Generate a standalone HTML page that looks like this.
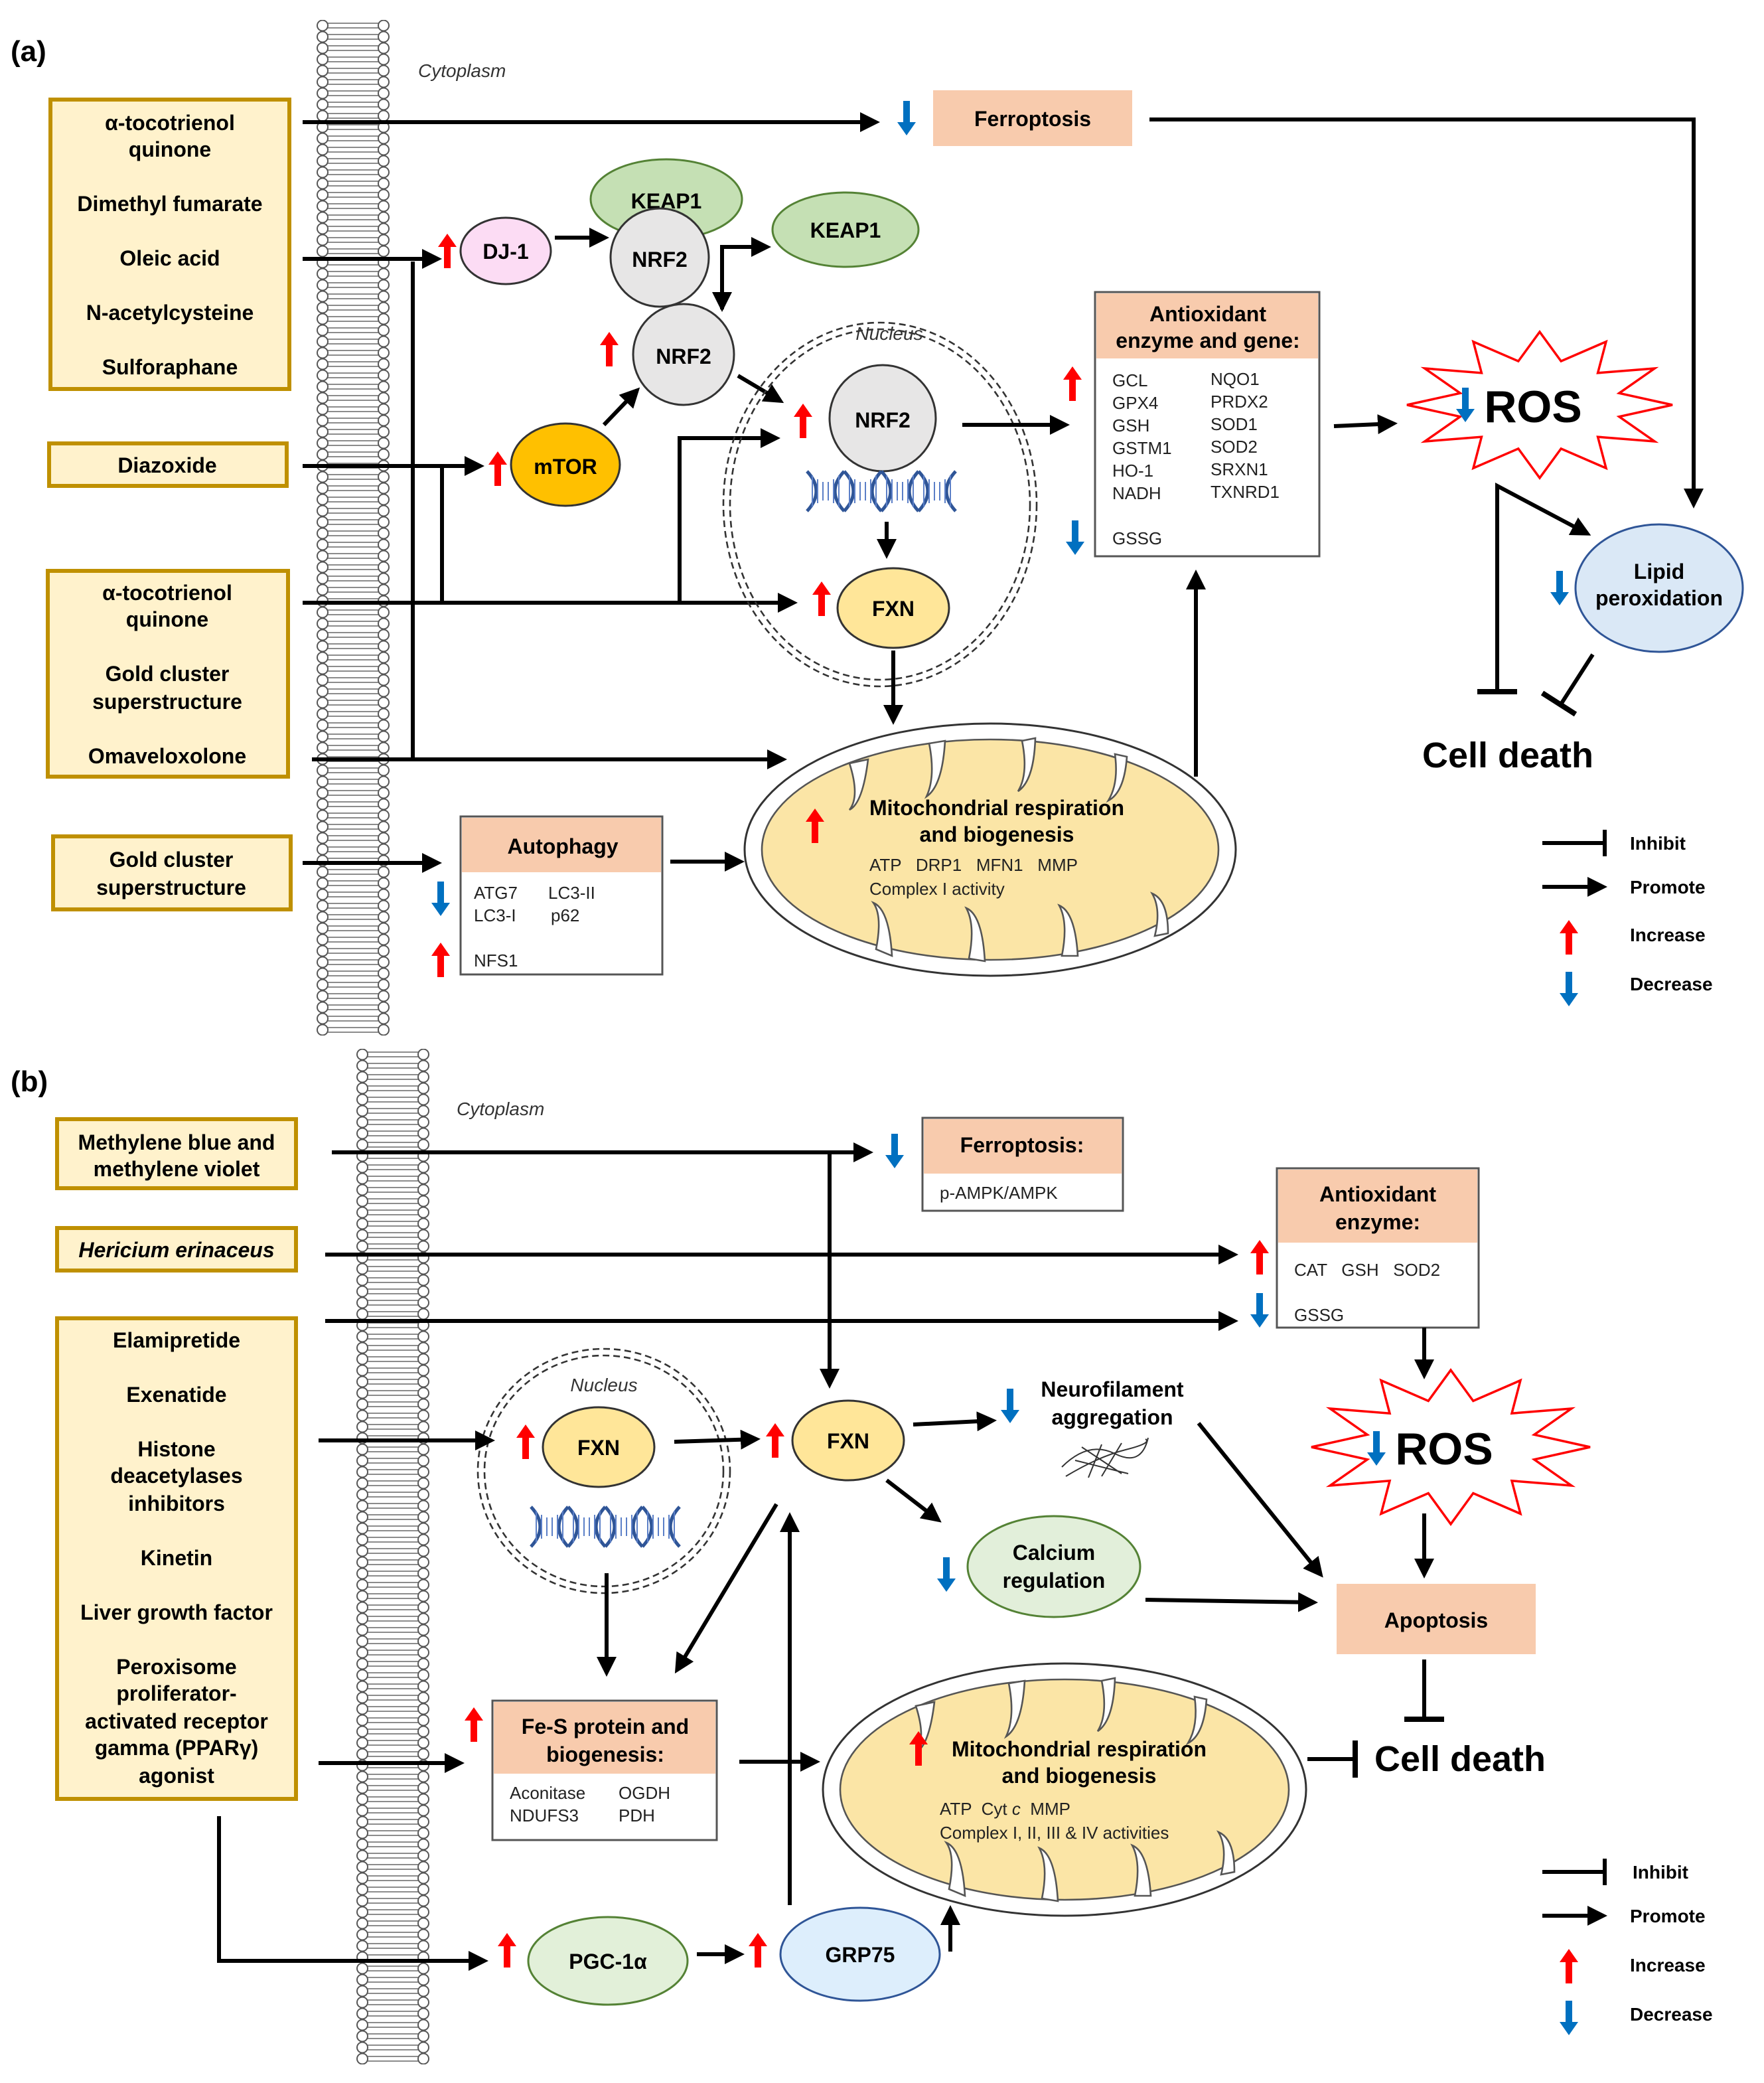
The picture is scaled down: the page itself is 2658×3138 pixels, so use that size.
<!DOCTYPE html>
<html><head><meta charset="utf-8"><style>
html,body{margin:0;padding:0;background:#fff}
svg{display:block}
text{font-family:"Liberation Sans",Arial,sans-serif}
.b{font-weight:bold;font-size:16px;text-anchor:middle}
.s{font-size:13px;fill:#222}
.it{font-style:italic;font-size:14px;fill:#333}
.ln{stroke:#000;stroke-width:3;fill:none}
</style></head><body>
<svg width="2658" height="3138" viewBox="0 0 1329 1569" xmlns="http://www.w3.org/2000/svg">
<defs>
<marker id="ah" markerWidth="5" markerHeight="5" refX="4" refY="2.5" orient="auto" markerUnits="strokeWidth"><path d="M0,0 L5,2.5 L0,5 z" fill="#000"/></marker>
<pattern id="memA" x="238" y="15" width="56" height="8.5" patternUnits="userSpaceOnUse">
<line x1="9" y1="2.5" x2="47" y2="2.5" stroke="#666" stroke-width="0.8"/>
<line x1="9" y1="6" x2="47" y2="6" stroke="#666" stroke-width="0.8"/>
<circle cx="5" cy="4.25" r="4" fill="#fff" stroke="#555" stroke-width="1"/>
<circle cx="51" cy="4.25" r="4" fill="#fff" stroke="#555" stroke-width="1"/>
</pattern>
<pattern id="memB" x="268" y="790" width="56" height="8.5" patternUnits="userSpaceOnUse">
<line x1="9" y1="2.5" x2="47" y2="2.5" stroke="#666" stroke-width="0.8"/>
<line x1="9" y1="6" x2="47" y2="6" stroke="#666" stroke-width="0.8"/>
<circle cx="5" cy="4.25" r="4" fill="#fff" stroke="#555" stroke-width="1"/>
<circle cx="51" cy="4.25" r="4" fill="#fff" stroke="#555" stroke-width="1"/>
</pattern>
<symbol id="up" viewBox="0 0 14 26" width="14" height="26"><path d="M7,0 L14,10 L9.5,10 L9.5,26 L4.5,26 L4.5,10 L0,10 z" fill="#ff0000"/></symbol>
<symbol id="dn" viewBox="0 0 14 26" width="14" height="26"><path d="M7,26 L14,16 L9.5,16 L9.5,0 L4.5,0 L4.5,16 L0,16 z" fill="#0070c0"/></symbol>
<g id="dna">
<path d="M0,0 Q14,15 0,30 M28,0 Q14,15 28,30 M28,0 Q42,15 28,30 M56,0 Q42,15 56,30 M56,0 Q70,15 56,30 M84,0 Q70,15 84,30 M84,0 Q98,15 84,30 M112,0 Q98,15 112,30" stroke="#2f5597" stroke-width="2.5" fill="none"/>
<path d="M4,3 v24 M8,6 v18 M12,8 v14 M16,8 v14 M20,6 v18 M24,3 v24 M32,3 v24 M36,6 v18 M40,8 v14 M44,8 v14 M48,6 v18 M52,3 v24 M60,3 v24 M64,6 v18 M68,8 v14 M72,8 v14 M76,6 v18 M80,3 v24 M88,3 v24 M92,6 v18 M96,8 v14 M100,8 v14 M104,6 v18 M108,3 v24" stroke="#5b7fc7" stroke-width="1"/>
</g>
</defs>

<!-- ===== PART A ===== -->
<text x="8" y="46" font-size="22" font-weight="bold">(a)</text>
<rect x="238" y="15" width="56" height="765" fill="url(#memA)"/>
<text x="315" y="58" class="it">Cytoplasm</text>

<g fill="#fff2cc" stroke="#bf9000" stroke-width="3">
<rect x="38" y="75" width="180" height="218"/>
<rect x="37" y="334" width="179" height="32"/>
<rect x="36" y="430" width="181" height="155"/>
<rect x="40" y="630" width="179" height="55"/>
</g>
<text x="128" y="98" class="b">α-tocotrienol</text><text x="128" y="118" class="b">quinone</text>
<text x="128" y="159" class="b">Dimethyl fumarate</text><text x="128" y="200" class="b">Oleic acid</text>
<text x="128" y="241" class="b">N-acetylcysteine</text><text x="128" y="282" class="b">Sulforaphane</text>
<text x="126" y="356" class="b">Diazoxide</text>
<text x="126" y="452" class="b">α-tocotrienol</text><text x="126" y="472" class="b">quinone</text>
<text x="126" y="513" class="b">Gold cluster</text><text x="126" y="534" class="b">superstructure</text>
<text x="126" y="575" class="b">Omaveloxolone</text>
<text x="129" y="653" class="b">Gold cluster</text><text x="129" y="674" class="b">superstructure</text>

<!-- ferroptosis -->
<line x1="228" y1="92" x2="660" y2="92" class="ln" marker-end="url(#ah)"/>
<use href="#dn" x="676" y="76"/>
<rect x="703" y="68" width="150" height="42" fill="#f8cbad"/>
<text x="778" y="95" class="b">Ferroptosis</text>
<polyline points="866,90 1276,90 1276,380" class="ln" marker-end="url(#ah)"/>

<!-- DJ-1 / KEAP1 -->
<line x1="228" y1="195" x2="330" y2="195" class="ln" marker-end="url(#ah)"/>
<use href="#up" x="330" y="176"/>
<ellipse cx="381" cy="189" rx="34" ry="25" fill="#fcdcf4" stroke="#333" stroke-width="1.5"/>
<text x="381" y="195" class="b">DJ-1</text>
<line x1="418" y1="179" x2="456" y2="179" class="ln" marker-end="url(#ah)"/>
<ellipse cx="502" cy="150" rx="57" ry="30" fill="#c5e0b4" stroke="#548235" stroke-width="1.5"/>
<text x="502" y="157" class="b">KEAP1</text>
<circle cx="497" cy="194" r="37" fill="#e7e6e6" stroke="#333" stroke-width="1.5"/>
<text x="497" y="201" class="b">NRF2</text>
<polyline points="544,233 544,186 578,186" class="ln" marker-end="url(#ah)"/>
<line x1="544" y1="200" x2="544" y2="232" class="ln" marker-end="url(#ah)"/>
<ellipse cx="637" cy="173" rx="55" ry="28" fill="#c5e0b4" stroke="#548235" stroke-width="1.5"/>
<text x="637" y="179" class="b">KEAP1</text>
<use href="#up" x="452" y="250"/>
<circle cx="515" cy="267" r="38" fill="#e7e6e6" stroke="#333" stroke-width="1.5"/>
<text x="515" y="274" class="b">NRF2</text>
<line x1="556" y1="283" x2="588" y2="302" class="ln" marker-end="url(#ah)"/>

<!-- mTOR -->
<line x1="228" y1="351" x2="362" y2="351" class="ln" marker-end="url(#ah)"/>
<use href="#up" x="368" y="340"/>
<ellipse cx="426" cy="350" rx="41" ry="31" fill="#ffc000" stroke="#333" stroke-width="1.5"/>
<text x="426" y="357" class="b">mTOR</text>
<line x1="455" y1="320" x2="480" y2="294" class="ln" marker-end="url(#ah)"/>

<line x1="311" y1="197" x2="311" y2="573" class="ln"/>
<line x1="333" y1="351" x2="333" y2="454" class="ln"/>
<line x1="228" y1="454" x2="598" y2="454" class="ln" marker-end="url(#ah)"/>
<polyline points="512,454 512,330 585,330" class="ln" marker-end="url(#ah)"/>
<line x1="235" y1="572" x2="590" y2="572" class="ln" marker-end="url(#ah)"/>

<!-- nucleus a -->
<ellipse cx="663" cy="380" rx="118" ry="137" fill="none" stroke="#333" stroke-width="1.3" stroke-dasharray="5,3"/>
<ellipse cx="663" cy="380" rx="113" ry="132" fill="none" stroke="#333" stroke-width="1.3" stroke-dasharray="5,3"/>
<text x="670" y="256" class="it" text-anchor="middle">Nucleus</text>
<use href="#up" x="598" y="304"/>
<circle cx="665" cy="315" r="40" fill="#e7e6e6" stroke="#333" stroke-width="1.5"/>
<text x="665" y="322" class="b">NRF2</text>
<use href="#dna" transform="translate(608,355)"/>
<line x1="668" y1="393" x2="668" y2="418" class="ln" marker-end="url(#ah)"/>
<use href="#up" x="612" y="438"/>
<ellipse cx="673" cy="458" rx="42" ry="30" fill="#ffe699" stroke="#333" stroke-width="1.5"/>
<text x="673" y="464" class="b">FXN</text>
<line x1="673" y1="490" x2="673" y2="543" class="ln" marker-end="url(#ah)"/>

<line x1="725" y1="320" x2="803" y2="320" class="ln" marker-end="url(#ah)"/>
<use href="#up" x="801" y="276"/>
<use href="#dn" x="803" y="392"/>

<!-- antioxidant a -->
<rect x="825" y="220" width="169" height="199" fill="#fff" stroke="#555" stroke-width="1.5"/>
<rect x="826" y="221" width="167" height="49" fill="#f8cbad"/>
<text x="910" y="242" class="b">Antioxidant</text><text x="910" y="262" class="b">enzyme and gene:</text>
<g class="s">
<text x="838" y="291">GCL</text><text x="838" y="308">GPX4</text><text x="838" y="325">GSH</text><text x="838" y="342">GSTM1</text><text x="838" y="359">HO-1</text><text x="838" y="376">NADH</text>
<text x="912" y="290">NQO1</text><text x="912" y="307">PRDX2</text><text x="912" y="324">SOD1</text><text x="912" y="341">SOD2</text><text x="912" y="358">SRXN1</text><text x="912" y="375">TXNRD1</text>
<text x="838" y="410">GSSG</text>
</g>
<line x1="1005" y1="321" x2="1050" y2="319" class="ln" marker-end="url(#ah)"/>

<!-- ROS a -->
<g transform="translate(1160,305) scale(100,55)"><polygon points="1,0 .599,.161 .866,.5 .438,.438 .5,.866 .161,.599 0,1 -.161,.599 -.5,.866 -.438,.438 -.866,.5 -.599,.161 -1,0 -.599,-.161 -.866,-.5 -.438,-.438 -.5,-.866 -.161,-.599 0,-1 .161,-.599 .5,-.866 .438,-.438 .866,-.5 .599,-.161" fill="#fff" stroke="#ff0000" stroke-width="3.5" vector-effect="non-scaling-stroke"/></g>
<use href="#dn" x="1097" y="292"/>
<text x="1155" y="318" font-size="34" font-weight="bold" text-anchor="middle">ROS</text>

<polyline points="1128,520 1128,366 1196,402" class="ln" marker-end="url(#ah)"/>
<line x1="1113" y1="521" x2="1143" y2="521" stroke="#000" stroke-width="4"/>
<ellipse cx="1250" cy="443" rx="63" ry="48" fill="#dae8f6" stroke="#2f5597" stroke-width="1.5"/>
<text x="1250" y="436" class="b">Lipid</text><text x="1250" y="456" class="b">peroxidation</text>
<use href="#dn" x="1168" y="430"/>
<line x1="1200" y1="493" x2="1175" y2="532" class="ln"/>
<line x1="1162" y1="522" x2="1187" y2="538" stroke="#000" stroke-width="4"/>
<text x="1136" y="578" font-size="27" font-weight="bold" text-anchor="middle">Cell death</text>

<!-- legend a -->
<line x1="1162" y1="635" x2="1208" y2="635" class="ln"/><line x1="1209" y1="625" x2="1209" y2="645" stroke="#000" stroke-width="3"/>
<line x1="1162" y1="668" x2="1208" y2="668" class="ln" marker-end="url(#ah)"/>
<use href="#up" x="1175" y="693"/><use href="#dn" x="1175" y="732"/>
<g font-size="14" font-weight="bold"><text x="1228" y="640">Inhibit</text><text x="1228" y="673">Promote</text><text x="1228" y="709">Increase</text><text x="1228" y="746">Decrease</text></g>

<!-- mito a -->
<ellipse cx="746" cy="640" rx="185" ry="95" fill="#fff" stroke="#333" stroke-width="1.5"/>
<ellipse cx="746" cy="640" rx="172" ry="83" fill="#fbe5a6" stroke="#555" stroke-width="1.3"/>
<g stroke="#555" stroke-width="1.3" fill="#fff">
<path d="M640,575 q8,25 0,35 q10,-5 14,-38 z"/><path d="M700,560 q5,25 -2,40 q12,-8 14,-42 z"/><path d="M770,558 q5,25 -3,38 q12,-8 13,-40 z"/><path d="M840,568 q3,22 -5,35 q12,-6 14,-33 z"/>
<path d="M660,715 q5,-25 -2,-35 q12,5 14,40 z"/><path d="M730,722 q5,-25 -2,-38 q12,5 14,40 z"/><path d="M800,720 q5,-25 -2,-38 q12,5 14,38 z"/><path d="M870,705 q5,-20 -2,-32 q12,5 12,30 z"/>
</g>
<use href="#up" x="607" y="609"/>
<text x="751" y="614" class="b">Mitochondrial respiration</text><text x="751" y="634" class="b">and biogenesis</text>
<text x="655" y="656" class="s" xml:space="preserve">ATP   DRP1   MFN1   MMP</text><text x="655" y="674" class="s">Complex I activity</text>
<line x1="901" y1="585" x2="901" y2="432" class="ln" marker-end="url(#ah)"/>

<!-- autophagy -->
<line x1="228" y1="650" x2="330" y2="650" class="ln" marker-end="url(#ah)"/>
<rect x="347" y="615" width="152" height="119" fill="#fff" stroke="#555" stroke-width="1.5"/>
<rect x="348" y="616" width="150" height="41" fill="#f8cbad"/>
<text x="424" y="643" class="b">Autophagy</text>
<g class="s"><text x="357" y="677">ATG7</text><text x="413" y="677">LC3-II</text><text x="357" y="694">LC3-I</text><text x="415" y="694">p62</text><text x="357" y="728">NFS1</text></g>
<use href="#dn" x="325" y="664"/><use href="#up" x="325" y="710"/>
<line x1="505" y1="649" x2="558" y2="649" class="ln" marker-end="url(#ah)"/>

<!-- ===== PART B ===== -->
<text x="8" y="822" font-size="22" font-weight="bold">(b)</text>
<rect x="268" y="790" width="56" height="765" fill="url(#memB)"/>
<text x="344" y="840" class="it">Cytoplasm</text>
<g fill="#fff2cc" stroke="#bf9000" stroke-width="3">
<rect x="43" y="843" width="180" height="52"/>
<rect x="43" y="925" width="180" height="32"/>
<rect x="43" y="993" width="180" height="362"/>
</g>
<text x="133" y="866" class="b">Methylene blue and</text><text x="133" y="886" class="b">methylene violet</text>
<text x="133" y="947" class="b" font-style="italic">Hericium erinaceus</text>
<text x="133" y="1015" class="b">Elamipretide</text><text x="133" y="1056" class="b">Exenatide</text>
<text x="133" y="1097" class="b">Histone</text><text x="133" y="1117" class="b">deacetylases</text><text x="133" y="1138" class="b">inhibitors</text>
<text x="133" y="1179" class="b">Kinetin</text><text x="133" y="1220" class="b">Liver growth factor</text>
<text x="133" y="1261" class="b">Peroxisome</text><text x="133" y="1281" class="b">proliferator-</text><text x="133" y="1302" class="b">activated receptor</text><text x="133" y="1322" class="b">gamma (PPARγ)</text><text x="133" y="1343" class="b">agonist</text>

<line x1="250" y1="868" x2="655" y2="868" class="ln" marker-end="url(#ah)"/>
<use href="#dn" x="667" y="854"/>
<line x1="625" y1="868" x2="625" y2="1043" class="ln" marker-end="url(#ah)"/>
<rect x="695" y="842" width="151" height="70" fill="#fff" stroke="#555" stroke-width="1.5"/>
<rect x="696" y="843" width="149" height="41" fill="#f8cbad"/>
<text x="770" y="868" class="b">Ferroptosis:</text>
<text x="708" y="903" class="s">p-AMPK/AMPK</text>

<line x1="245" y1="945" x2="930" y2="945" class="ln" marker-end="url(#ah)"/>
<use href="#up" x="942" y="934"/>
<line x1="245" y1="995" x2="930" y2="995" class="ln" marker-end="url(#ah)"/>
<use href="#dn" x="942" y="974"/>
<rect x="962" y="880" width="152" height="120" fill="#fff" stroke="#555" stroke-width="1.5"/>
<rect x="963" y="881" width="150" height="55" fill="#f8cbad"/>
<text x="1038" y="905" class="b">Antioxidant</text><text x="1038" y="926" class="b">enzyme:</text>
<text x="975" y="961" class="s" xml:space="preserve">CAT   GSH   SOD2</text><text x="975" y="995" class="s">GSSG</text>
<line x1="1073" y1="1000" x2="1073" y2="1036" class="ln" marker-end="url(#ah)"/>

<g transform="translate(1093,1090) scale(105,58)"><polygon points="1,0 .599,.161 .866,.5 .438,.438 .5,.866 .161,.599 0,1 -.161,.599 -.5,.866 -.438,.438 -.866,.5 -.599,.161 -1,0 -.599,-.161 -.866,-.5 -.438,-.438 -.5,-.866 -.161,-.599 0,-1 .161,-.599 .5,-.866 .438,-.438 .866,-.5 .599,-.161" fill="#fff" stroke="#ff0000" stroke-width="3.5" vector-effect="non-scaling-stroke"/></g>
<use href="#dn" x="1030" y="1078"/>
<text x="1088" y="1103" font-size="34" font-weight="bold" text-anchor="middle">ROS</text>
<line x1="1073" y1="1140" x2="1073" y2="1186" class="ln" marker-end="url(#ah)"/>

<!-- nucleus b -->
<ellipse cx="455" cy="1108" rx="95" ry="92" fill="none" stroke="#333" stroke-width="1.3" stroke-dasharray="5,3"/>
<ellipse cx="455" cy="1108" rx="90" ry="87" fill="none" stroke="#333" stroke-width="1.3" stroke-dasharray="5,3"/>
<text x="455" y="1048" class="it" text-anchor="middle">Nucleus</text>
<line x1="240" y1="1085" x2="370" y2="1085" class="ln" marker-end="url(#ah)"/>
<use href="#up" x="389" y="1073"/>
<ellipse cx="451" cy="1090" rx="42" ry="30" fill="#ffe699" stroke="#333" stroke-width="1.5"/>
<text x="451" y="1096" class="b">FXN</text>
<use href="#dna" transform="translate(400,1135)"/>
<line x1="457" y1="1185" x2="457" y2="1260" class="ln" marker-end="url(#ah)"/>
<line x1="508" y1="1086" x2="570" y2="1084" class="ln" marker-end="url(#ah)"/>
<use href="#up" x="577" y="1072"/>
<ellipse cx="639" cy="1085" rx="42" ry="30" fill="#ffe699" stroke="#333" stroke-width="1.5"/>
<text x="639" y="1091" class="b">FXN</text>

<line x1="688" y1="1073" x2="748" y2="1070" class="ln" marker-end="url(#ah)"/>
<use href="#dn" x="754" y="1046"/>
<text x="838" y="1052" class="b">Neurofilament</text><text x="838" y="1073" class="b">aggregation</text>
<g stroke="#333" stroke-width="1" fill="none"><path d="M800,1105 q20,-20 40,-10 t25,-12"/><path d="M803,1112 q25,-15 45,-20 t15,-8"/><path d="M810,1100 l40,10 M815,1090 l30,20 M830,1088 l-10,25 M845,1087 l-15,25"/></g>
<line x1="668" y1="1115" x2="707" y2="1145" class="ln" marker-end="url(#ah)"/>
<ellipse cx="794" cy="1180" rx="65" ry="38" fill="#e2efda" stroke="#548235" stroke-width="1.5"/>
<text x="794" y="1175" class="b">Calcium</text><text x="794" y="1196" class="b">regulation</text>
<use href="#dn" x="706" y="1173"/>
<line x1="903" y1="1072" x2="995" y2="1186" class="ln" marker-end="url(#ah)"/>
<line x1="863" y1="1205" x2="990" y2="1207" class="ln" marker-end="url(#ah)"/>
<rect x="1007" y="1193" width="150" height="53" fill="#f8cbad"/>
<text x="1082" y="1226" class="b">Apoptosis</text>
<line x1="1073" y1="1250" x2="1073" y2="1294" class="ln"/><line x1="1058" y1="1295" x2="1088" y2="1295" stroke="#000" stroke-width="4"/>
<text x="1100" y="1334" font-size="27" font-weight="bold" text-anchor="middle">Cell death</text>
<line x1="985" y1="1325" x2="1020" y2="1325" class="ln"/><line x1="1021" y1="1311" x2="1021" y2="1339" stroke="#000" stroke-width="4"/>

<line x1="585" y1="1133" x2="510" y2="1258" class="ln" marker-end="url(#ah)"/>
<line x1="595" y1="1435" x2="595" y2="1142" class="ln" marker-end="url(#ah)"/>

<!-- Fe-S -->
<line x1="240" y1="1328" x2="347" y2="1328" class="ln" marker-end="url(#ah)"/>
<use href="#up" x="350" y="1286"/>
<rect x="371" y="1281" width="169" height="105" fill="#fff" stroke="#555" stroke-width="1.5"/>
<rect x="372" y="1282" width="167" height="54" fill="#f8cbad"/>
<text x="456" y="1306" class="b">Fe-S protein and</text><text x="456" y="1327" class="b">biogenesis:</text>
<g class="s"><text x="384" y="1355">Aconitase</text><text x="466" y="1355">OGDH</text><text x="384" y="1372">NDUFS3</text><text x="466" y="1372">PDH</text></g>
<line x1="557" y1="1327" x2="615" y2="1327" class="ln" marker-end="url(#ah)"/>

<!-- mito b -->
<ellipse cx="802" cy="1348" rx="182" ry="95" fill="#fff" stroke="#333" stroke-width="1.5"/>
<ellipse cx="802" cy="1348" rx="169" ry="83" fill="#fbe5a6" stroke="#555" stroke-width="1.3"/>
<g stroke="#555" stroke-width="1.3" fill="#fff">
<path d="M690,1285 q8,25 0,35 q10,-5 14,-38 z"/><path d="M760,1268 q5,25 -2,40 q12,-8 14,-42 z"/><path d="M830,1266 q5,25 -3,38 q12,-8 13,-40 z"/><path d="M900,1278 q3,22 -5,35 q12,-6 14,-33 z"/>
<path d="M715,1423 q5,-25 -2,-35 q12,5 14,40 z"/><path d="M785,1430 q5,-25 -2,-38 q12,5 14,40 z"/><path d="M855,1428 q5,-25 -2,-38 q12,5 14,38 z"/><path d="M920,1412 q5,-20 -2,-32 q12,5 12,30 z"/>
</g>
<use href="#up" x="685" y="1304"/>
<text x="813" y="1323" class="b">Mitochondrial respiration</text><text x="813" y="1343" class="b">and biogenesis</text>
<text x="708" y="1367" class="s" xml:space="preserve">ATP  Cyt <tspan font-style="italic">c</tspan>  MMP</text><text x="708" y="1385" class="s">Complex I, II, III &amp; IV activities</text>

<!-- PGC / GRP75 -->
<polyline points="165,1368 165,1477 365,1477" class="ln" marker-end="url(#ah)"/>
<use href="#up" x="375" y="1456"/>
<ellipse cx="458" cy="1477" rx="60" ry="33" fill="#e2f0d9" stroke="#548235" stroke-width="1.5"/>
<text x="458" y="1483" class="b">PGC-1α</text>
<line x1="525" y1="1472" x2="558" y2="1472" class="ln" marker-end="url(#ah)"/>
<use href="#up" x="564" y="1456"/>
<ellipse cx="648" cy="1472" rx="60" ry="35" fill="#ddeefc" stroke="#2f5597" stroke-width="1.5"/>
<text x="648" y="1478" class="b">GRP75</text>
<line x1="716" y1="1470" x2="716" y2="1438" class="ln" marker-end="url(#ah)"/>

<!-- legend b -->
<line x1="1162" y1="1410" x2="1208" y2="1410" class="ln"/><line x1="1209" y1="1400" x2="1209" y2="1420" stroke="#000" stroke-width="3"/>
<line x1="1162" y1="1443" x2="1208" y2="1443" class="ln" marker-end="url(#ah)"/>
<use href="#up" x="1175" y="1468"/><use href="#dn" x="1175" y="1507"/>
<g font-size="14" font-weight="bold"><text x="1230" y="1415">Inhibit</text><text x="1228" y="1448">Promote</text><text x="1228" y="1485">Increase</text><text x="1228" y="1522">Decrease</text></g>
</svg>
</body></html>
